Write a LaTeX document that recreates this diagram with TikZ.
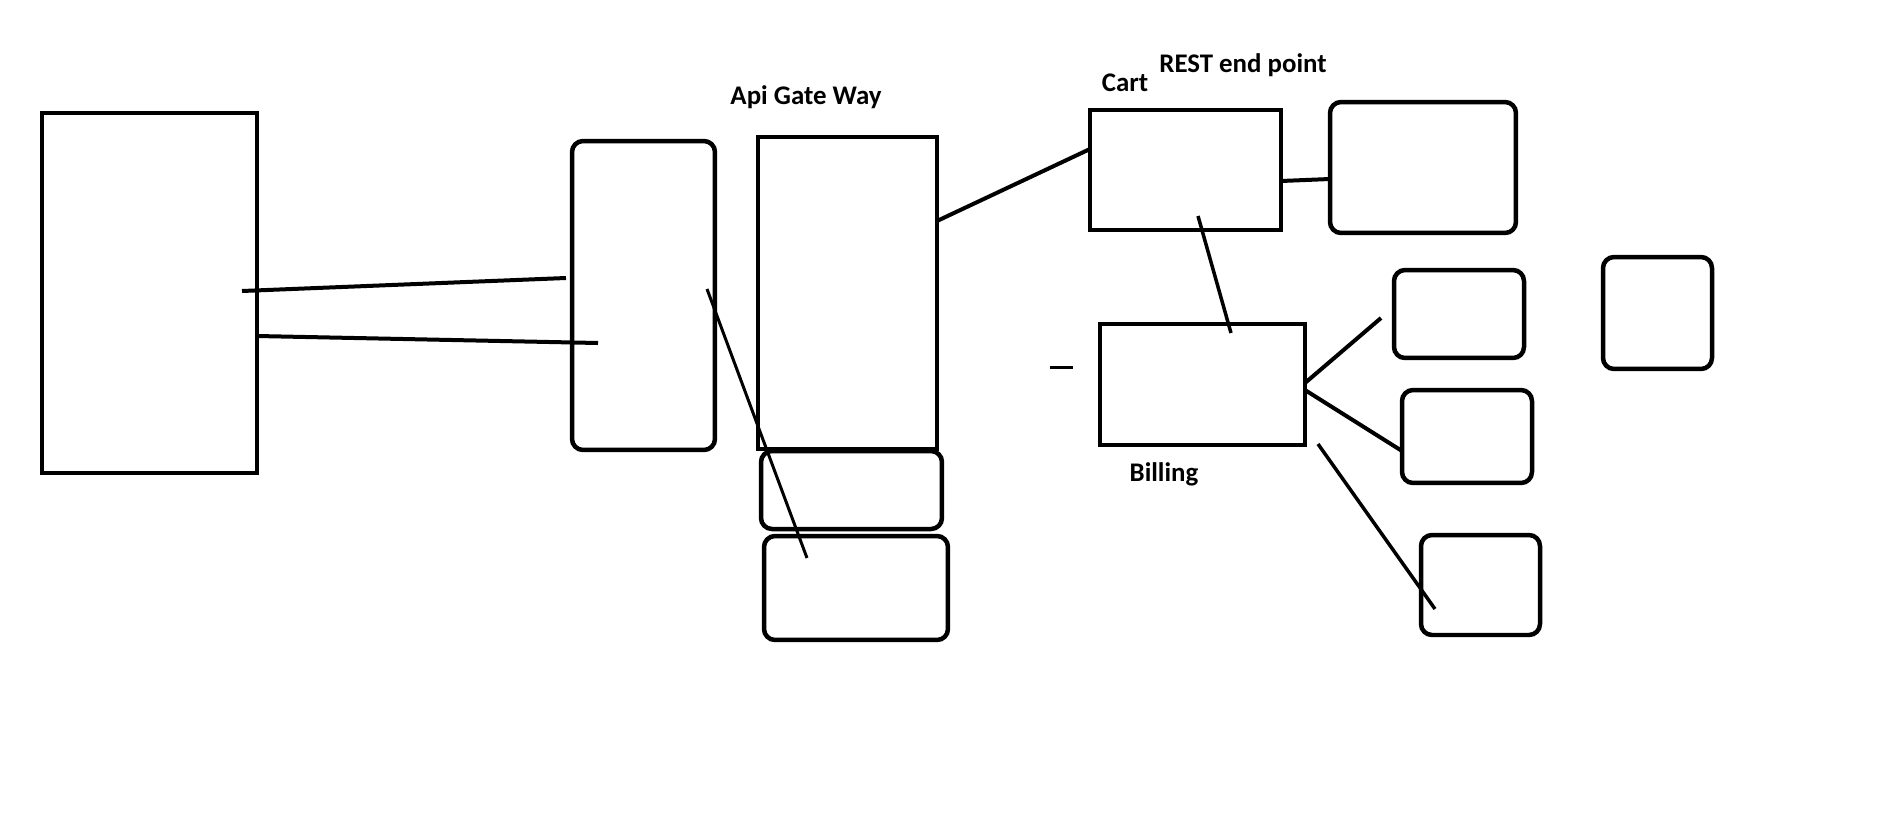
\documentclass[tikz,border=0pt]{standalone}
\usepackage{fontspec}
\setmainfont{Carlito}
\usepackage{tikz}

\tikzset{
  box/.style={draw,line width=0.09cm,inner sep=0,outer sep=0},
  rbox/.style={box,rounded corners=0.22cm},
  wire/.style={line width=0.08cm},
  lbl/.style={font=\bfseries\fontsize{15.3}{17}\selectfont,inner sep=0}
}

\begin{document}
\begin{tikzpicture}[x=0.02cm,y=-0.02cm]
\useasboundingbox (0,0) rectangle (1901,822);

% boxes
\node[box,minimum width=4.3cm,minimum height=7.2cm] (client) at (149.5,293) {};
\node[rbox,minimum width=2.86cm,minimum height=6.18cm] (lb) at (643.5,295.5) {};
\node[box,minimum width=3.58cm,minimum height=6.24cm] (gateway) at (847.5,293) {};
\node[rbox,minimum width=3.62cm,minimum height=1.56cm] (gwa) at (851.5,490) {};
\node[rbox,minimum width=3.68cm,minimum height=2.08cm] (gwb) at (856,588) {};
\node[box,minimum width=3.82cm,minimum height=2.4cm] (cart) at (1185.5,170) {};
\node[rbox,minimum width=3.72cm,minimum height=2.62cm] (cartdb) at (1423,167.5) {};
\node[box,minimum width=4.1cm,minimum height=2.42cm] (billing) at (1202.5,384.5) {};
\node[rbox,minimum width=2.6cm,minimum height=1.76cm] (svca) at (1459,314) {};
\node[rbox,minimum width=2.6cm,minimum height=1.86cm] (svcb) at (1467,436.5) {};
\node[rbox,minimum width=2.38cm,minimum height=2cm] (svcc) at (1480.5,585) {};
\node[rbox,minimum width=2.18cm,minimum height=2.24cm] (svcd) at (1657.5,313) {};

% labels
\node[lbl] (gwlbl) at (806,97) {Api Gate Way};
\node[lbl] (cartlbl) at (1125,83) {Cart};
\node[lbl] (restlbl) at (1243,65) {REST end point};
\node[lbl] (billlbl) at (1164,474) {Billing};

% free ends
\coordinate (c1) at (242,291);
\coordinate (l1) at (566,278);
\coordinate (l2) at (598,343);
\coordinate (l3) at (707,289);
\coordinate (g3) at (807,558);
\coordinate (c6) at (1198,216);
\coordinate (b6) at (1231,333);
\coordinate (a7) at (1381,318);
\coordinate (b9) at (1318,444);
\coordinate (s9) at (1435,609);
\coordinate (d1) at (1050,367);
\coordinate (d2) at (1073,367);

% connectors
\draw[wire] (c1) -- (l1);
\draw[wire] (client.east |- 0,336) -- (l2);
\draw[line width=0.06cm] (l3) -- (g3);
\draw[wire] (gateway.east |- 0,221) -- (cart.west |- 0,149);
\draw[wire] (cart.east |- 0,181) -- (cartdb.west |- 0,179);
\draw[line width=0.07cm] (c6) -- (b6);
\draw[wire] (billing.east |- 0,383) -- (a7);
\draw[wire] (billing.east |- 0,390) -- (svcb.west |- 0,451);
\draw[line width=0.07cm] (b9) -- (s9);
\draw[line width=0.06cm] (d1) -- (d2);
\end{tikzpicture}
\end{document}
